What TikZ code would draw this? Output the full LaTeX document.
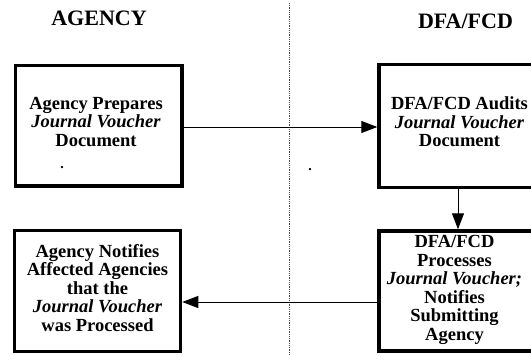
\documentclass[tikz,border=0pt]{standalone}
\usepackage{fontspec}
\setmainfont{Liberation Serif}
\usetikzlibrary{arrows.meta}
\begin{document}
\begin{tikzpicture}[x=1pt,y=-1pt,
  box/.style={draw, line width=3.5pt, rectangle, inner sep=0pt},
  txt/.style={font=\fontsize{18.5}{18.5}\selectfont\bfseries, align=center, inner sep=0pt},
  dotmark/.style={font=\fontsize{14}{14}\selectfont\bfseries, inner sep=0pt},
  hdr/.style={font=\fontsize{22}{24}\selectfont\bfseries, inner sep=0pt},
  arr/.style={line width=1pt, -{Triangle[length=16pt,width=12pt]}},
  divider/.style={densely dotted, line width=0.8pt, black!70}]
\useasboundingbox (0,0) rectangle (531,356);
% divider
\coordinate (dtop) at (289,3);
\coordinate (dbot) at (289,356);
\draw[divider] (dtop) -- (dbot);
% headers
\node[hdr, anchor=base] (hA) at (99,25.5) {AGENCY};
\node[hdr, anchor=base] (hD) at (465.5,28.5) {DFA/FCD};
% boxes
\node[box, minimum width=166.5pt, minimum height=120.5pt] (b1) at (98.75,125.75) {};
\node[box, minimum width=166pt, minimum height=123pt] (b2) at (462,126) {};
\node[box, minimum width=166pt, minimum height=121pt] (b3) at (97.5,291) {};
\node[box, minimum width=166pt, minimum height=120pt] (b4) at (462,291) {};
% texts
\node[txt] (t1) at (96,122) {Agency Prepares\\\textit{Journal Voucher}\\Document};
\node[txt] (t2) at (459.5,122) {DFA/FCD Audits\\\textit{Journal Voucher}\\Document};
\node[txt] (t3) at (97.5,288) {Agency Notifies\\Affected Agencies\\that the\\\textit{Journal Voucher}\\was Processed};
\node[txt] (t4) at (454.5,290) {DFA/FCD\\Processes\\\textit{Journal Voucher;}\\Notifies\\Submitting\\Agency};
\node[dotmark, anchor=base] (dot1) at (62,168.5) {.};
\node[dotmark, anchor=base] (dot2) at (310,170.5) {.};
% connectors
\coordinate (a1) at (0,127);
\coordinate (a2) at (458,0);
\coordinate (a3) at (0,302);
\draw[arr] (b1.east |- a1) -- (b2.west |- a1);
\draw[arr] (b2.south -| a2) -- (b4.north -| a2);
\draw[arr] (b4.west |- a3) -- (b3.east |- a3);
\end{tikzpicture}
\end{document}
